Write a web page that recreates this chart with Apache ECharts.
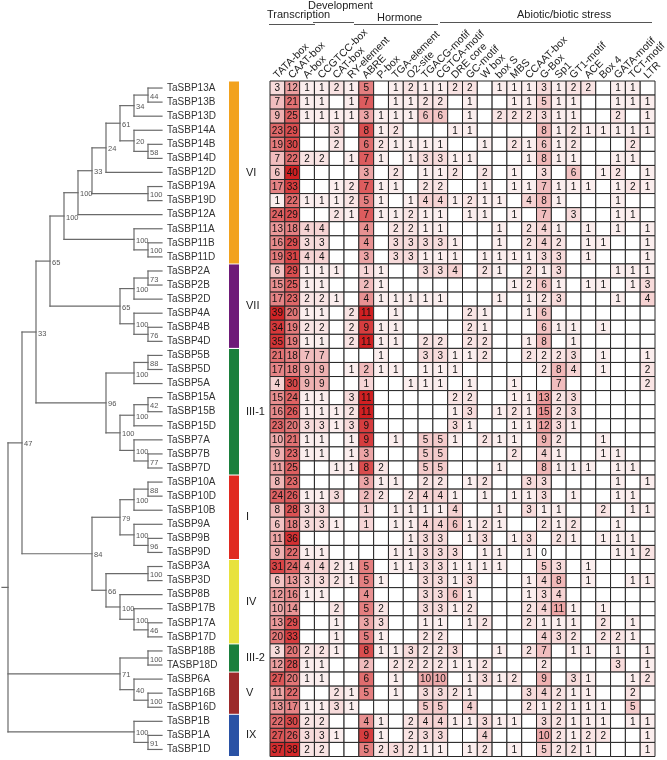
<!DOCTYPE html>
<html><head><meta charset="utf-8">
<script src="https://cdn.jsdelivr.net/npm/echarts@6/dist/echarts.min.js"></script>
<style>html,body{margin:0;padding:0;background:#fff}#c{width:667px;height:760px}</style>
</head><body><div id="c"></div>
<script>
const _ = null;
const elements = ['TATA-box','CAAT-box','A-box','CCGTCC-box','CAT-box','RY-element','ABRE','P-box','TGA-element','O2-site','TGACG-motif','CGTCA-motif','DRE core','GC-motif','W box','box S','MBS','CCAAT-box','G-Box','Sp1','GT1-motif','ACE','Box 4','GATA-motif','TCT-motif','LTR'];

const genesVI = ['TaSBP13A','TaSBP13B','TaSBP13D','TaSBP14A','TaSBP14B','TaSBP14D','TaSBP12D','TaSBP19A','TaSBP19D','TaSBP12A','TaSBP11A','TaSBP11B','TaSBP11D'];
const genesVII = ['TaSBP2A','TaSBP2B','TaSBP2D','TaSBP4A','TaSBP4B','TaSBP4D'];
const genesIII1 = ['TaSBP5B','TaSBP5D','TaSBP5A','TaSBP15A','TaSBP15B','TaSBP15D','TaSBP7A','TaSBP7B','TaSBP7D'];
const genesI = ['TaSBP10A','TaSBP10D','TaSBP10B','TaSBP9A','TaSBP9B','TaSBP9D'];
const genesIV = ['TaSBP3A','TaSBP3D','TaSBP8B','TaSBP17B','TaSBP17A','TaSBP17D'];
const genesIII2 = ['TaSBP18B','TASBP18D'];
const genesV = ['TaSBP6A','TaSBP16B','TaSBP16D'];
const genesIX = ['TaSBP1B','TaSBP1A','TaSBP1D'];

const countsVI = [
 [3,12,1,1,2,1,5,_,1,2,1,1,2, 2,_,1,1,1,3,1,2,2,_,1,1,_],
 [7,21,1,1,_,1,7,_,1,1,2,2,_, 1,_,_,1,1,5,1,1,_,_,1,1,1],
 [9,25,1,1,1,1,3,1,1,1,6,6,_, 1,_,2,2,2,3,1,1,_,_,2,_,1],
 [23,29,_,_,3,_,8,1,2,_,_,_,1, 1,_,_,_,_,8,1,2,1,1,1,1,1],
 [19,30,_,_,2,_,6,2,1,1,1,1,_, _,1,_,2,1,6,1,2,_,_,_,2,_],
 [7,22,2,2,_,1,7,1,_,1,3,3,1, 1,_,_,_,1,8,1,1,_,_,1,1,_],
 [6,40,_,_,_,_,3,_,2,_,1,1,2, _,2,_,1,_,3,_,6,_,1,2,_,1],
 [17,33,_,_,1,2,7,1,1,_,2,2,_, _,1,_,1,1,7,1,1,1,_,1,2,1],
 [1,22,1,1,1,2,5,1,_,1,4,4,1, 2,1,1,_,4,8,1,_,_,_,1,_,_],
 [24,29,_,_,2,1,7,1,1,2,1,1,_, 1,1,_,1,_,7,_,3,_,_,1,1,_],
 [13,18,4,4,_,_,4,_,2,2,1,1,_, _,_,1,_,2,4,1,_,1,_,1,_,1],
 [16,29,3,3,_,_,4,_,3,3,3,3,1, _,_,1,_,2,4,2,_,1,1,_,_,1],
 [19,31,4,4,_,_,3,_,3,3,1,1,1, _,1,1,1,1,3,3,_,1,_,_,_,1]
];
const countsVII = [
 [6,29,1,1,1,_,1,1,_,_,3,3,4, _,2,1,_,2,1,3,_,_,_,1,1,1],
 [15,25,1,1,_,_,2,1,_,_,_,_,_, _,_,_,1,2,6,1,_,1,1,_,1,3],
 [17,23,2,2,1,_,4,1,1,1,1,1,_, _,_,1,_,1,2,3,_,_,_,1,_,4],
 [39,20,1,1,_,2,11,_,1,_,_,_,_, 2,1,_,_,1,6,_,_,_,_,_,_,_],
 [34,19,2,2,_,2,9,1,1,_,_,_,_, 2,1,_,_,_,6,1,1,_,1,_,_,_],
 [35,19,1,1,_,2,11,1,1,_,2,2,_, 2,2,_,_,1,8,_,1,_,_,_,_,_]
];
const countsIII1 = [
 [21,18,7,7,_,_,_,1,_,_,3,3,1, 1,2,_,_,2,2,2,3,_,1,_,_,1],
 [17,18,9,9,_,1,2,1,1,_,1,1,1, _,_,_,_,_,2,8,4,_,1,_,_,2],
 [4,30,9,9,_,_,1,_,_,1,1,1,_, 1,_,_,1,_,_,7,_,_,_,_,_,2],
 [15,24,1,1,_,3,11,_,_,_,_,_,2, 2,_,_,1,1,13,2,3,_,_,_,_,_],
 [16,26,1,1,1,2,11,_,_,_,_,_,1, 3,_,1,2,1,15,2,3,_,_,_,_,_],
 [23,20,3,3,1,3,9,_,_,_,_,_,3, 1,_,_,1,1,12,3,1,_,_,_,_,_],
 [10,21,1,1,_,1,9,_,1,_,5,5,1, _,2,1,1,_,9,2,_,_,1,_,_,_],
 [9,23,1,1,_,1,3,_,_,_,5,5,_, _,_,_,2,_,4,1,_,_,1,1,_,_],
 [11,25,_,_,1,1,8,2,_,_,5,5,_, _,_,1,_,_,8,1,1,1,_,1,1,_]
];
const countsI = [
 [8,23,_,_,_,_,3,1,1,_,2,2,_, 1,2,_,_,3,3,_,_,_,_,1,_,1],
 [24,26,1,1,3,_,2,2,_,2,4,4,1, _,1,_,1,1,3,_,1,_,_,1,1,_],
 [8,28,3,3,_,_,1,_,1,1,1,1,4, _,_,1,_,3,1,1,_,_,2,_,1,1],
 [6,18,3,3,1,_,1,_,1,1,4,4,6, 1,2,1,_,_,2,1,2,_,_,1,_,_],
 [11,36,_,_,_,_,_,_,_,1,3,3,_, 1,3,_,1,3,_,2,1,_,1,1,1,_],
 [9,22,1,1,_,_,_,_,1,1,3,3,3, _,1,1,_,1,0,_,_,_,_,1,1,2]
];
const countsIV = [
 [31,24,4,4,2,1,5,_,1,1,3,3,1, 1,1,1,_,_,5,3,_,1,_,_,_,_],
 [6,13,3,3,2,1,5,1,_,_,3,3,1, 3,_,_,_,1,4,8,_,1,_,_,1,1],
 [12,16,1,1,_,_,4,_,_,_,3,3,6, 1,_,_,_,1,3,4,_,_,_,_,_,_],
 [10,14,_,_,2,_,5,2,_,_,3,3,1, 2,_,_,_,2,4,11,1,_,1,_,_,_],
 [13,29,_,_,1,_,3,3,_,_,1,1,_, 1,2,_,_,2,1,1,1,_,2,_,1,_],
 [20,33,_,_,1,_,5,1,_,_,2,2,_, _,_,_,_,_,4,3,2,_,2,2,1,_]
];
const countsIII2 = [
 [3,20,2,2,1,_,8,1,1,3,2,2,3, _,_,1,_,2,7,_,1,1,_,1,_,1],
 [12,28,1,1,_,_,2,_,2,2,2,2,1, 1,2,_,_,_,2,_,_,_,_,3,_,1]
];
const countsV = [
 [27,20,1,1,_,_,6,_,1,_,10,10,_, 1,3,1,2,_,9,_,3,1,_,_,1,2],
 [11,22,_,_,2,1,5,_,1,_,3,3,2, 1,_,_,_,3,4,2,1,1,_,_,2,_],
 [13,17,1,1,3,1,_,_,_,_,5,5,_, 4,_,_,_,2,1,2,1,1,1,_,5,_]
];
const countsIX = [
 [22,30,2,2,_,_,4,1,_,2,4,4,1, 1,3,1,1,_,3,2,1,1,1,_,1,1],
 [27,26,3,3,1,_,9,1,_,2,3,3,_, _,4,_,_,_,10,2,1,2,2,_,_,1],
 [37,38,2,2,_,_,5,2,3,2,1,1,_, 1,2,_,1,_,5,2,2,1,_,_,_,1]
];

const clades = [
 {label:'VI', genes:genesVI, counts:countsVI},
 {label:'VII', genes:genesVII, counts:countsVII},
 {label:'III-1', genes:genesIII1, counts:countsIII1},
 {label:'I', genes:genesI, counts:countsI},
 {label:'IV', genes:genesIV, counts:countsIV},
 {label:'III-2', genes:genesIII2, counts:countsIII2},
 {label:'V', genes:genesV, counts:countsV},
 {label:'IX', genes:genesIX, counts:countsIX}
];
const cladeColors = {'VI':'#F2A21E','VII':'#6E1B78','III-1':'#1B7F3C','I':'#E02A20','IV':'#E8E23E','III-2':'#1B7F3C','V':'#9C2A2B','IX':'#2A52A5'};

// tree: n(depthLevel, bootstrap, ...children); leaves are gene names
function n(level, support, ...kids){ return {level, support, kids}; }
const tree = n(0, null,
  n(1, 47,
    n(2, 33,
      n(3, 65,
        n(4, 100,
          n(5, 100,
            n(6, 33,
              n(7, 24,
                n(8, 61,
                  n(9, 34, n(10, 44, 'TaSBP13A', 'TaSBP13B'), 'TaSBP13D'),
                  n(9, 20, 'TaSBP14A', n(10, 58, 'TaSBP14B', 'TaSBP14D'))),
                'TaSBP12D'),
              n(10, 100, 'TaSBP19A', 'TaSBP19D')),
            'TaSBP12A'),
          n(9, 100, 'TaSBP11A', n(10, 100, 'TaSBP11B', 'TaSBP11D'))),
        n(8, 65,
          n(9, 100, n(10, 73, 'TaSBP2A', 'TaSBP2B'), 'TaSBP2D'),
          n(9, 100, 'TaSBP4A', n(10, 76, 'TaSBP4B', 'TaSBP4D')))),
      n(7, 96,
        n(9, 100, n(10, 88, 'TaSBP5B', 'TaSBP5D'), 'TaSBP5A'),
        n(8, 100,
          n(9, 100, n(10, 42, 'TaSBP15A', 'TaSBP15B'), 'TaSBP15D'),
          n(9, 100, 'TaSBP7A', n(10, 77, 'TaSBP7B', 'TaSBP7D'))))),
    n(6, 84,
      n(8, 79,
        n(9, 100, n(10, 88, 'TaSBP10A', 'TaSBP10D'), 'TaSBP10B'),
        n(9, 100, 'TaSBP9A', n(10, 96, 'TaSBP9B', 'TaSBP9D'))),
      n(7, 66,
        n(10, 100, 'TaSBP3A', 'TaSBP3D'),
        n(8, 100, 'TaSBP8B', n(9, 100, 'TaSBP17B', n(10, 46, 'TaSBP17A', 'TaSBP17D')))))),
  n(8, 71,
    n(10, 100, 'TaSBP18B', 'TASBP18D'),
    n(9, 40, 'TaSBP6A', n(10, 100, 'TaSBP16B', 'TaSBP16D'))),
  n(9, 100, 'TaSBP1B', n(10, 91, 'TaSBP1A', 'TaSBP1D')));
const TIP_LEVEL = 11;

// ---------- derived ----------
const genes = [];
const cells = [];
const bars = [];
clades.forEach((c, ci) => {
  const start = genes.length;
  c.genes.forEach((g, gi) => {
    const r = genes.length;
    genes.push(g);
    c.counts[gi].forEach((v, col) => cells.push([col, r, v == null ? -1 : v]));
  });
  bars.push([start, genes.length - 1, ci]);
});

const segs = [], supports = [];
function place(node){
  if (typeof node === 'string') return {y: genes.indexOf(node), level: TIP_LEVEL};
  const ch = node.kids.map(place);
  const y0 = ch[0].y, y1 = ch[ch.length-1].y;
  const y = (y0 + y1) / 2;
  segs.push([node.level, y0, node.level, y1]);
  ch.forEach(c => segs.push([node.level, c.y, c.level, c.y]));
  if (node.support != null) supports.push([node.level, y, node.support]);
  return {y, level: node.level};
}
const rootPos = place(tree);
segs.push([-0.43, rootPos.y, 0, rootPos.y]);

const globalMax = Math.max(...cells.map(c => c[2]));
const abreCol = elements.indexOf('ABRE');
const abreMax = Math.max(...cells.filter(c => c[0] === abreCol).map(c => c[2]));
function cellColor(v, col){
  if (v <= 0) return '#ffffff';
  const m = col === abreCol ? abreMax : globalMax;
  const t = Math.pow(Math.min(v / m, 1), 0.7);
  const r = Math.round(255 + (208 - 255) * t);
  const g = Math.round(255 + (32 - 255) * t);
  const b = Math.round(255 + (34 - 255) * t);
  return 'rgb(' + r + ',' + g + ',' + b + ')';
}

const FONT = 'Liberation Sans, Arial, sans-serif';
const TOP = 81, H = 675.5;

const chart = echarts.init(document.getElementById('c'), null, {renderer: 'canvas'});
chart.setOption({
  animation: false,
  backgroundColor: '#fff',
  grid: [
    {left: 8, top: TOP, width: 154, height: H, containLabel: false, outerBoundsMode: 'none'},
    {left: 270, top: TOP, width: 385, height: H, containLabel: false, outerBoundsMode: 'none'}
  ],
  xAxis: [
    {gridIndex: 0, type: 'value', min: 0, max: TIP_LEVEL, show: false},
    {gridIndex: 1, type: 'category', data: elements, position: 'top',
     axisLine: {show: false}, axisTick: {show: false}, splitLine: {show: false}, axisLabel: {show: false}}
  ],
  yAxis: [
    {gridIndex: 0, type: 'value', min: -0.5, max: genes.length - 0.5, inverse: true, show: false},
    {gridIndex: 1, type: 'category', data: genes, inverse: true, show: false}
  ],
  series: [
    { // tree branches
      type: 'custom', xAxisIndex: 0, yAxisIndex: 0, silent: true,
      encode: {x: [0, 2], y: [1, 3]},
      data: segs,
      renderItem: function(params, api){
        const p1 = api.coord([api.value(0), api.value(1)]);
        const p2 = api.coord([api.value(2), api.value(3)]);
        return {type: 'line', shape: {x1: p1[0], y1: p1[1], x2: p2[0], y2: p2[1]},
          style: {stroke: '#6a6a6a', lineWidth: 1.2, lineCap: 'square'}};
      }
    },
    { // bootstrap values
      type: 'custom', xAxisIndex: 0, yAxisIndex: 0, silent: true,
      encode: {x: 0, y: 1},
      data: supports,
      renderItem: function(params, api){
        const p = api.coord([api.value(0), api.value(1)]);
        return {type: 'text', x: p[0] + 2, y: p[1] + 1.5,
          style: {text: String(api.value(2)), font: '7.5px ' + FONT, fill: '#555', align: 'left', verticalAlign: 'middle'}};
      }
    },
    { // leaf names
      type: 'custom', xAxisIndex: 0, yAxisIndex: 0, silent: true,
      encode: {x: 0, y: 1},
      data: genes.map((g, i) => [TIP_LEVEL, i]),
      renderItem: function(params, api){
        const p = api.coord([api.value(0), api.value(1)]);
        return {type: 'text', x: p[0] + 5, y: p[1],
          style: {text: genes[params.dataIndex], font: '10px ' + FONT, fill: '#333', align: 'left', verticalAlign: 'middle'}};
      }
    },
    { // clade bars and labels
      type: 'custom', xAxisIndex: 0, yAxisIndex: 0, silent: true,
      encode: {y: [0, 1]},
      data: bars,
      renderItem: function(params, api){
        const top = api.coord([0, api.value(0) - 0.5])[1];
        const bot = api.coord([0, api.value(1) + 0.5])[1];
        const c = clades[api.value(2)];
        return {type: 'group', children: [
          {type: 'rect', shape: {x: 229, y: top + 0.5, width: 10, height: bot - top - 1},
            style: {fill: cladeColors[c.label]}},
          {type: 'text', x: 246, y: (top + bot) / 2,
            style: {text: c.label, font: '11px ' + FONT, fill: '#222', align: 'left', verticalAlign: 'middle'}}
        ]};
      }
    },
    { // heatmap cells
      type: 'custom', xAxisIndex: 1, yAxisIndex: 1, silent: true,
      encode: {x: 0, y: 1},
      data: cells,
      renderItem: function(params, api){
        const col = api.value(0), v = api.value(2);
        const p = api.coord([col, api.value(1)]);
        const s = api.size([1, 1]);
        const children = [{type: 'rect', shape: {x: p[0] - s[0] / 2, y: p[1] - s[1] / 2, width: s[0], height: s[1]},
          style: {fill: cellColor(v, col), stroke: '#262626', lineWidth: 1}}];
        if (v >= 0) children.push({type: 'text', x: p[0], y: p[1] + 0.5,
          style: {text: String(v), font: '10px ' + FONT, fill: '#111', align: 'center', verticalAlign: 'middle'}});
        return {type: 'group', children};
      }
    }
  ]
});

// header: category groups and rotated element names (placed through the x axis scale)
const graphics = [
  {type: 'text', left: 308, top: 0, style: {text: 'Development', font: '11px ' + FONT, fill: '#222'}},
  {type: 'text', left: 267, top: 9, style: {text: 'Transcription', font: '11px ' + FONT, fill: '#222'}},
  {type: 'text', left: 377, top: 12, style: {text: 'Hormone', font: '11px ' + FONT, fill: '#222'}},
  {type: 'text', left: 517, top: 9, style: {text: 'Abiotic/biotic stress', font: '11px ' + FONT, fill: '#222'}},
  {type: 'line', shape: {x1: 269, y1: 24.5, x2: 315, y2: 24.5}, style: {stroke: '#555', lineWidth: 1}},
  {type: 'line', shape: {x1: 313, y1: 22.5, x2: 354, y2: 22.5}, style: {stroke: '#555', lineWidth: 1}},
  {type: 'line', shape: {x1: 354, y1: 24.5, x2: 438, y2: 24.5}, style: {stroke: '#555', lineWidth: 1}},
  {type: 'line', shape: {x1: 440, y1: 22.5, x2: 652, y2: 22.5}, style: {stroke: '#555', lineWidth: 1}}
];
elements.forEach((name, i) => {
  const px = chart.convertToPixel({xAxisIndex: 1}, name);
  graphics.push({type: 'text', x: px - 2, y: TOP - 4, rotation: Math.PI / 4,
    style: {text: name, font: '10.5px ' + FONT, fill: '#222', align: 'left', verticalAlign: 'middle'}});
});
chart.setOption({graphic: graphics});
</script></body></html>
